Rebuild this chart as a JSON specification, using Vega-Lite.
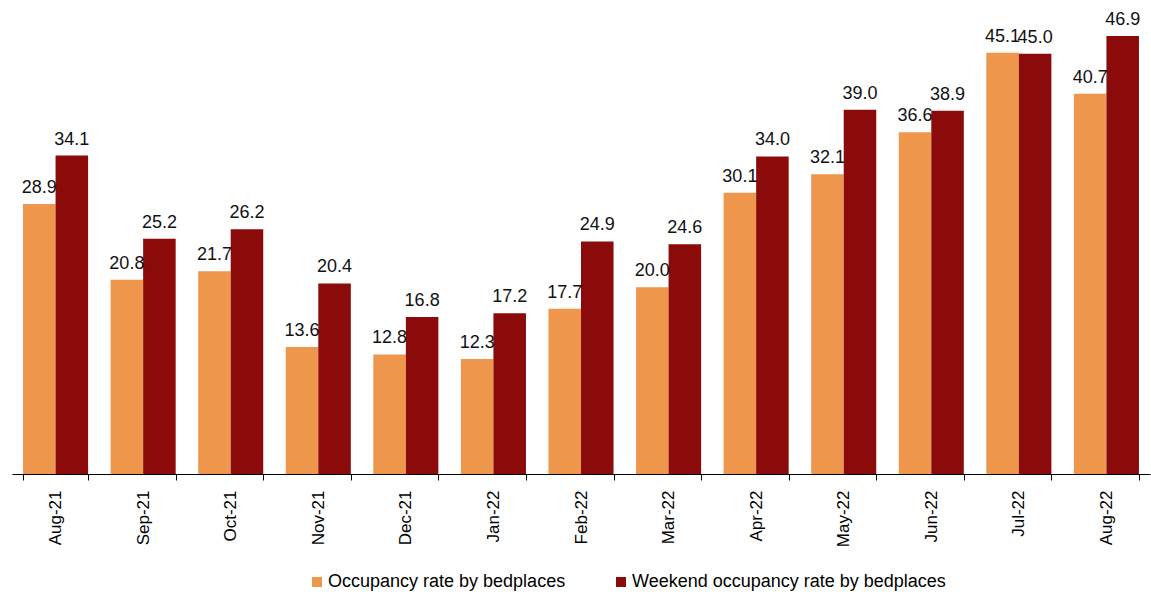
{
  "$schema": "https://vega.github.io/schema/vega-lite/v6.json",
  "autosize": {"type": "none"},
  "width": 1138,
  "height": 467,
  "padding": {"left": 12, "top": 7, "right": 1, "bottom": 123},
  "background": "white",
  "config": {"view": {"stroke": null}, "font": "Liberation Sans"},
  "data": {"values": [
    {"month": "Aug-21", "series": "Occupancy rate by bedplaces", "value": 28.9},
    {"month": "Aug-21", "series": "Weekend occupancy rate by bedplaces", "value": 34.1},
    {"month": "Sep-21", "series": "Occupancy rate by bedplaces", "value": 20.8},
    {"month": "Sep-21", "series": "Weekend occupancy rate by bedplaces", "value": 25.2},
    {"month": "Oct-21", "series": "Occupancy rate by bedplaces", "value": 21.7},
    {"month": "Oct-21", "series": "Weekend occupancy rate by bedplaces", "value": 26.2},
    {"month": "Nov-21", "series": "Occupancy rate by bedplaces", "value": 13.6},
    {"month": "Nov-21", "series": "Weekend occupancy rate by bedplaces", "value": 20.4},
    {"month": "Dec-21", "series": "Occupancy rate by bedplaces", "value": 12.8},
    {"month": "Dec-21", "series": "Weekend occupancy rate by bedplaces", "value": 16.8},
    {"month": "Jan-22", "series": "Occupancy rate by bedplaces", "value": 12.3},
    {"month": "Jan-22", "series": "Weekend occupancy rate by bedplaces", "value": 17.2},
    {"month": "Feb-22", "series": "Occupancy rate by bedplaces", "value": 17.7},
    {"month": "Feb-22", "series": "Weekend occupancy rate by bedplaces", "value": 24.9},
    {"month": "Mar-22", "series": "Occupancy rate by bedplaces", "value": 20.0},
    {"month": "Mar-22", "series": "Weekend occupancy rate by bedplaces", "value": 24.6},
    {"month": "Apr-22", "series": "Occupancy rate by bedplaces", "value": 30.1},
    {"month": "Apr-22", "series": "Weekend occupancy rate by bedplaces", "value": 34.0},
    {"month": "May-22", "series": "Occupancy rate by bedplaces", "value": 32.1},
    {"month": "May-22", "series": "Weekend occupancy rate by bedplaces", "value": 39.0},
    {"month": "Jun-22", "series": "Occupancy rate by bedplaces", "value": 36.6},
    {"month": "Jun-22", "series": "Weekend occupancy rate by bedplaces", "value": 38.9},
    {"month": "Jul-22", "series": "Occupancy rate by bedplaces", "value": 45.1},
    {"month": "Jul-22", "series": "Weekend occupancy rate by bedplaces", "value": 45.0},
    {"month": "Aug-22", "series": "Occupancy rate by bedplaces", "value": 40.7},
    {"month": "Aug-22", "series": "Weekend occupancy rate by bedplaces", "value": 46.9}
  ]},
  "encoding": {
    "x": {
      "field": "month", "type": "nominal", "sort": null, "title": null,
      "scale": {"paddingInner": 0.257, "paddingOuter": 0.126},
      "axis": {
        "labelAngle": -90, "labelFontSize": 17, "labelColor": "#000000",
        "labelPadding": 10, "tickBand": "extent", "tickSize": 6,
        "tickColor": "#000000", "domainColor": "#000000", "labelFont": "Liberation Sans"
      }
    },
    "xOffset": {"field": "series", "type": "nominal", "sort": null},
    "y": {
      "field": "value", "type": "quantitative",
      "scale": {"domain": [0, 50], "nice": false},
      "axis": null
    }
  },
  "layer": [
    {
      "mark": {"type": "bar"},
      "encoding": {
        "color": {
          "field": "series", "type": "nominal", "sort": null,
          "scale": {"range": ["#EE964B", "#8B0B0B"]},
          "legend": {
            "title": null, "orient": "none", "direction": "horizontal",
            "legendX": 296, "legendY": 566,
            "symbolType": "square", "symbolSize": 100, "symbolStrokeWidth": 0,
            "labelFontSize": 18, "labelColor": "#000000", "labelOffset": 2,
            "columnPadding": 46, "labelFont": "Liberation Sans", "labelLimit": 500
          }
        }
      }
    },
    {
      "mark": {"type": "text", "baseline": "bottom", "dy": -7, "fontSize": 18, "color": "#111111", "font": "Liberation Sans"},
      "encoding": {
        "text": {"field": "value", "type": "quantitative", "format": ".1f"}
      }
    }
  ]
}
